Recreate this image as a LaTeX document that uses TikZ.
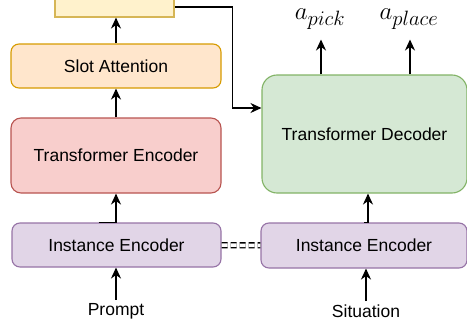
\documentclass[tikz,border=0pt]{standalone}
\usepackage{fontspec}
\setmainfont{Liberation Sans}
\usepackage{amsmath}
\usetikzlibrary{arrows.meta,positioning}

\definecolor{slotsfill}{HTML}{FFF2CC}\definecolor{slotsline}{HTML}{D6B656}
\definecolor{slotfill}{HTML}{FFE6CC}\definecolor{slotline}{HTML}{D79B00}
\definecolor{encfill}{HTML}{F8CECC}\definecolor{encline}{HTML}{B85450}
\definecolor{instfill}{HTML}{E1D5E7}\definecolor{instline}{HTML}{9673A6}
\definecolor{decfill}{HTML}{D5E8D4}\definecolor{decline}{HTML}{82B366}

\begin{document}
\begin{tikzpicture}[x=1pt, y=-1pt, font=\fontsize{17.5}{21}\selectfont,
		box/.style={draw, line width=1.1pt, inner sep=0pt, rounded corners=8pt},
		link/.style={line width=1.6pt, -{Stealth[length=11pt,width=10pt]}}]
			\useasboundingbox (0,0) rectangle (467,324);

			% Left column
			\node[box, rounded corners=0pt, fill=slotsfill, draw=slotsline, minimum width=119pt, minimum height=20pt] (slots) at (114.5,7) {};
			\node[box, fill=slotfill, draw=slotline, minimum width=210pt, minimum height=44pt] (slot) at (116,66) {Slot Attention};
			\node[box, rounded corners=10pt, fill=encfill, draw=encline, minimum width=210pt, minimum height=75pt] (tenc) at (116,155.5) {Transformer Encoder};
			\node[box, fill=instfill, draw=instline, minimum width=209pt, minimum height=44pt] (instl) at (116.5,245) {Instance Encoder};
			\node (prompt) at (116,311) {Prompt};

			% Right column
			\node[box, rounded corners=15pt, fill=decfill, draw=decline, minimum width=205pt, minimum height=118pt] (tdec) at (364.5,134) {Transformer Decoder};
			\node[box, fill=instfill, draw=instline, minimum width=206pt, minimum height=45pt] (instr) at (364,245.5) {Instance Encoder};
			\node (situation) at (366,311) {Situation};
			\node[inner sep=0pt] (apick) at (320,19) {\fontsize{28}{30}\selectfont$a_{pick}$};
			\node[inner sep=0pt] (aplace) at (409,19) {\fontsize{28}{30}\selectfont$a_{place}$};

			% Arrows
			\draw[link] (prompt) -- (prompt |- instl.south);
			\draw[link] ([xshift=-18pt]instl.north) -| (tenc.south);
			\draw[link] (tenc) -- (slot);
			\draw[link] (slot.north) -- (slot.north |- slots.south);
			\draw[link] (slots.east) -- ++(58,0) |- ([yshift=26pt]tdec.west);
			\draw[link] (situation) -- (situation |- instr.south);
			\draw[link] (instr.north) -| ([xshift=3.5pt]tdec.south);
			\draw[link, shorten >=10pt] ([xshift=1pt]tdec.north -| apick) -- ([xshift=1pt]apick.south);
			\draw[link, shorten >=10pt] ([xshift=1pt]tdec.north -| aplace) -- ([xshift=1pt]aplace.south);
			\draw[double, double distance=3.5pt, line width=1.3pt, dash pattern=on 6pt off 3pt] (instl) -- (instr);
		\end{tikzpicture}
\end{document}
